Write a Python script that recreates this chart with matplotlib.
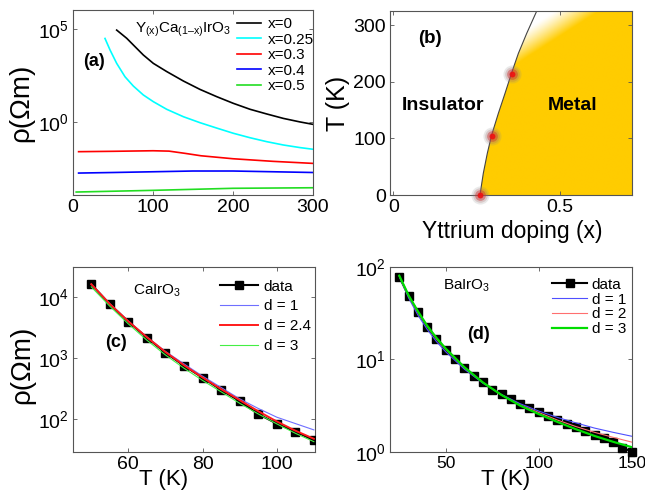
import numpy as np
import matplotlib
matplotlib.use('Agg')
import matplotlib.pyplot as plt
from matplotlib import rc
from matplotlib.patches import Polygon
from matplotlib.ticker import NullLocator

rc('font', family=['Liberation Sans', 'DejaVu Sans'], size=12)
rc('mathtext', fontset='custom', rm='Liberation Sans', it='Liberation Sans:italic',
   bf='Liberation Sans:bold', default='regular')
rc('axes', linewidth=0.8, edgecolor='#555555')

# ---- (a) Y(x)Ca(1-x)IrO3, log10(rho) ----
T_x0 = [54.6, 67.1, 75.4, 87.9, 100.4, 117.1, 138, 158.7, 179.6, 200.4, 221.3, 242, 262.9, 283.7, 300]
logr_x0 = [4.96, 4.52, 4.16, 3.62, 3.17, 2.73, 2.22, 1.77, 1.38, 1.02, 0.70, 0.45, 0.21, 0.02, -0.11]
T_x025 = [40, 46.3, 54.6, 65, 75.4, 87.9, 100.4, 117.1, 138, 158.7, 179.6, 200.4, 221.3, 242, 262.9, 283.7, 300]
logr_x025 = [4.51, 3.89, 3.17, 2.45, 1.95, 1.47, 1.11, 0.70, 0.30, -0.02, -0.31, -0.59, -0.83, -1.04, -1.22, -1.36, -1.45]
T_x03 = [7, 50, 100, 120, 140, 160, 180, 200, 250, 300]
logr_x03 = [-1.58, -1.56, -1.53, -1.55, -1.67, -1.80, -1.88, -1.96, -2.10, -2.21]
T_x04 = [7, 50, 100, 150, 200, 250, 300]
logr_x04 = [-2.73, -2.70, -2.66, -2.62, -2.62, -2.66, -2.70]
T_x05 = [4, 100, 200, 300]
logr_x05 = [-3.75, -3.66, -3.55, -3.52]
labels_a = ['x=0', 'x=0.25', 'x=0.3', 'x=0.4', 'x=0.5']
colors_a = ['black', '#00ffff', '#ff0000', '#0000ff', '#22dd22']

# ---- (b) phase diagram ----
x_boundary = [0.2596, 0.2695, 0.2815, 0.2945, 0.3145, 0.3345, 0.3545, 0.3745, 0.3994, 0.4294]
T_boundary = [0, 38.2, 73.5, 105.9, 144, 179.4, 215.9, 250, 285.3, 324.7]
x_dots = [0.26, 0.295, 0.354]
T_dots = [0, 105, 213]

# ---- (c) CaIrO3 ----
T_c = [50, 55, 60, 65, 70, 75, 80, 85, 90, 95, 100, 105, 110]
rho_c = [15900, 7520, 3910, 2140, 1220, 748, 477, 301, 198, 122, 84.7, 63, 45.4]
fit_c_d1 = [16000, 7700, 4000, 2200, 1280, 800, 505, 330, 215, 150, 108, 85, 67]
fit_c_d24 = [16000, 7600, 3950, 2180, 1250, 760, 480, 310, 205, 135, 92, 65, 48]
fit_c_d3 = [14500, 7000, 3600, 1950, 1120, 680, 430, 280, 182, 122, 84, 59, 43]

# ---- (d) BaIrO3 ----
T_d = [25, 30, 35, 40, 45, 50, 55, 60, 65, 70, 75, 80, 85, 90, 95, 100,
       105, 110, 115, 120, 125, 130, 135, 140, 145, 150]
rho_d = [78, 48, 32, 22.3, 16.5, 12.6, 10, 8.0, 6.6, 5.6, 4.7, 4.2, 3.7, 3.3, 2.97, 2.69,
         2.43, 2.21, 2.0, 1.84, 1.66, 1.51, 1.40, 1.27, 1.11, 1.0]
T_fit_d = [25, 30, 35, 40, 45, 50, 60, 70, 80, 90, 100, 110, 120, 130, 140, 150]
fit_d_d1 = [78, 46, 30, 21, 15.5, 12, 7.8, 5.5, 4.15, 3.3, 2.75, 2.35, 2.05, 1.8, 1.62, 1.47]
fit_d_d2 = [79, 48, 32, 22.5, 16.5, 12.7, 8.1, 5.6, 4.1, 3.2, 2.65, 2.2, 1.87, 1.62, 1.43, 1.27]
fit_d_d3 = [80, 49, 33, 23, 17, 13, 8.2, 5.6, 4.1, 3.15, 2.55, 2.1, 1.75, 1.48, 1.28, 1.12]

W, H = 645, 493


def px_axes(left, top, right, bottom):
    return [left / W, 1 - bottom / H, (right - left) / W, (bottom - top) / H]


def style(ax, size=14):
    ax.tick_params(which='both', direction='in', top=True, right=True, length=3,
                   width=0.6, color='#555555', labelsize=size, pad=3)


fig = plt.figure(figsize=(6.45, 4.93), dpi=100)

# ================= (a) =================
ax = fig.add_axes(px_axes(73, 10, 313, 195))
series_a = [(T_x0, logr_x0), (T_x025, logr_x025), (T_x03, logr_x03),
            (T_x04, logr_x04), (T_x05, logr_x05)]
for (tt, lr), c, lab in zip(series_a, colors_a, labels_a):
    ax.plot(tt, 10.0 ** np.array(lr), color=c, lw=1.2, label=lab)
ax.set_yscale('log')
ax.set_xlim(0, 300)
ax.set_ylim(10 ** -3.91, 10 ** 6.04)
ax.set_xticks([0, 100, 200, 300])
ax.set_yticks([1, 1e5], [r'$10^0$', r'$10^5$'])
ax.yaxis.set_minor_locator(NullLocator())
style(ax)
ax.set_ylabel('ρ(Ωm)', fontsize=20)
ax.yaxis.set_label_coords(-0.16, 0.5)
ax.text(0.042, 0.72, '(a)', transform=ax.transAxes, fontsize=13, fontweight='bold', va='center')
ax.text(0.258, 0.876, 'Y$_{(x)}$Ca$_{(1\u2013x)}$IrO$_3$', transform=ax.transAxes,
        fontsize=11, va='baseline')
ax.legend(loc='upper left', bbox_to_anchor=(0.682, 0.962), frameon=False, borderpad=0,
          borderaxespad=0, handlelength=1.6, handletextpad=0.45, labelspacing=0.1, fontsize=11)

# ================= (b) =================
ax = fig.add_axes(px_axes(390, 11, 632, 195))
xl0, xl1, yl0, yl1 = -0.01, 0.715, 0, 325
gx, gy = np.meshgrid(np.linspace(0, 1, 300), np.linspace(0, 1, 200))
s = np.clip((gx - 0.68) * 5.5 + (1 - gy) * 6.5, 0, 1) ** 1.2
gold = np.array([1.0, 0.8, 0.0])
img = (1 - s)[..., None] * np.ones(3) + s[..., None] * gold
im = ax.imshow(img, extent=[xl0, xl1, yl0, yl1], origin='lower', aspect='auto', zorder=1)
poly_pts = np.column_stack([x_boundary + [xl1 + 0.05, xl1 + 0.05],
                            T_boundary + [yl1 + 10, yl0]])
poly = Polygon(poly_pts, closed=True, transform=ax.transData, facecolor='none', edgecolor='none')
ax.add_patch(poly)
im.set_clip_path(poly)
ax.plot(x_boundary, T_boundary, color='#444444', lw=0.8, zorder=2)
for size, alpha, col in [(170, 0.18, '#888888'), (110, 0.25, '#aa6666'),
                         (60, 0.45, '#cc3333'), (18, 0.9, '#ee1111')]:
    ax.scatter(x_dots, T_dots, s=size, color=col, alpha=alpha, lw=0, zorder=3, clip_on=False)
ax.set_xlim(xl0, xl1)
ax.set_ylim(yl0, yl1)
ax.set_xticks([0, 0.5], ['0', '0.5'])
ax.set_yticks([0, 100, 200, 300])
style(ax, 14)
ax.set_xlabel('Yttrium doping (x)', fontsize=16.5)
ax.xaxis.set_label_coords(0.504, -0.135)
ax.set_ylabel('T (K)', fontsize=18)
ax.yaxis.set_label_coords(-0.165, 0.5)
ax.text(0.116, 0.853, '(b)', transform=ax.transAxes, fontsize=13.5, fontweight='bold', va='center')
ax.text(0.05, 0.489, 'Insulator', transform=ax.transAxes, fontsize=14, fontweight='bold', va='center')
ax.text(0.653, 0.484, 'Metal', transform=ax.transAxes, fontsize=14, fontweight='bold', va='center')

# ================= (c) =================
ax = fig.add_axes(px_axes(72.7, 266.7, 315, 451.7))
ax.plot(T_c, rho_c, color='black', lw=1.5, marker='s', ms=6, label='data', zorder=3)
ax.plot(T_c, fit_c_d1, color='#6f6fff', lw=0.8, label='d = 1', zorder=4)
ax.plot(T_c, fit_c_d24, color='#ff1a1a', lw=1.4, label='d = 2.4', zorder=5)
ax.plot(T_c, fit_c_d3, color='#44ee44', lw=0.8, label='d = 3', zorder=6)
ax.set_yscale('log')
ax.set_xlim(45, 110.3)
ax.set_ylim(10 ** 1.47, 10 ** 4.49)
ax.set_xticks([60, 80, 100])
ax.set_yticks([1e2, 1e3, 1e4], [r'$10^2$', r'$10^3$', r'$10^4$'])
ax.yaxis.set_minor_locator(NullLocator())
style(ax)
ax.set_ylabel('ρ(Ωm)', fontsize=20)
ax.yaxis.set_label_coords(-0.156, 0.47)
ax.set_xlabel('T (K)', fontsize=16)
ax.xaxis.set_label_coords(0.373, -0.095)
ax.text(0.249, 0.847, r'CaIrO$_3$', transform=ax.transAxes, fontsize=11, va='baseline')
ax.text(0.134, 0.588, '(c)', transform=ax.transAxes, fontsize=13, fontweight='bold', va='center')
ax.legend(loc='upper left', bbox_to_anchor=(0.608, 0.93), frameon=False, borderpad=0,
          borderaxespad=0, handlelength=2.5, handletextpad=0.35, labelspacing=0.38, fontsize=11)

# ================= (d) =================
ax = fig.add_axes(px_axes(390, 266.7, 631.7, 451.7))
ax.plot(T_d, rho_d, color='black', lw=1.5, marker='s', ms=6, label='data', zorder=3, clip_on=False)
ax.plot(T_fit_d, fit_d_d1, color='#4f4fff', lw=0.8, label='d = 1', zorder=4)
ax.plot(T_fit_d, fit_d_d2, color='#ff6f6f', lw=0.8, label='d = 2', zorder=5)
ax.plot(T_fit_d, fit_d_d3, color='#00dd00', lw=1.6, label='d = 3', zorder=6)
ax.set_yscale('log')
ax.set_xlim(20, 150)
ax.set_ylim(1, 100)
ax.set_xticks([50, 100, 150])
ax.set_yticks([1, 10, 100], [r'$10^0$', r'$10^1$', r'$10^2$'])
ax.yaxis.set_minor_locator(NullLocator())
style(ax)
ax.tick_params(axis='x', labelsize=12.5)
ax.set_xlabel('T (K)', fontsize=16)
ax.xaxis.set_label_coords(0.48, -0.095)
ax.text(0.219, 0.874, r'BaIrO$_3$', transform=ax.transAxes, fontsize=11, va='baseline')
ax.text(0.319, 0.631, '(d)', transform=ax.transAxes, fontsize=13, fontweight='bold', va='center')
ax.legend(loc='upper left', bbox_to_anchor=(0.67, 0.94), frameon=False, borderpad=0,
          borderaxespad=0, handlelength=2.3, handletextpad=0.3, labelspacing=0.05, fontsize=11)

fig.savefig('out.png', dpi=100)
